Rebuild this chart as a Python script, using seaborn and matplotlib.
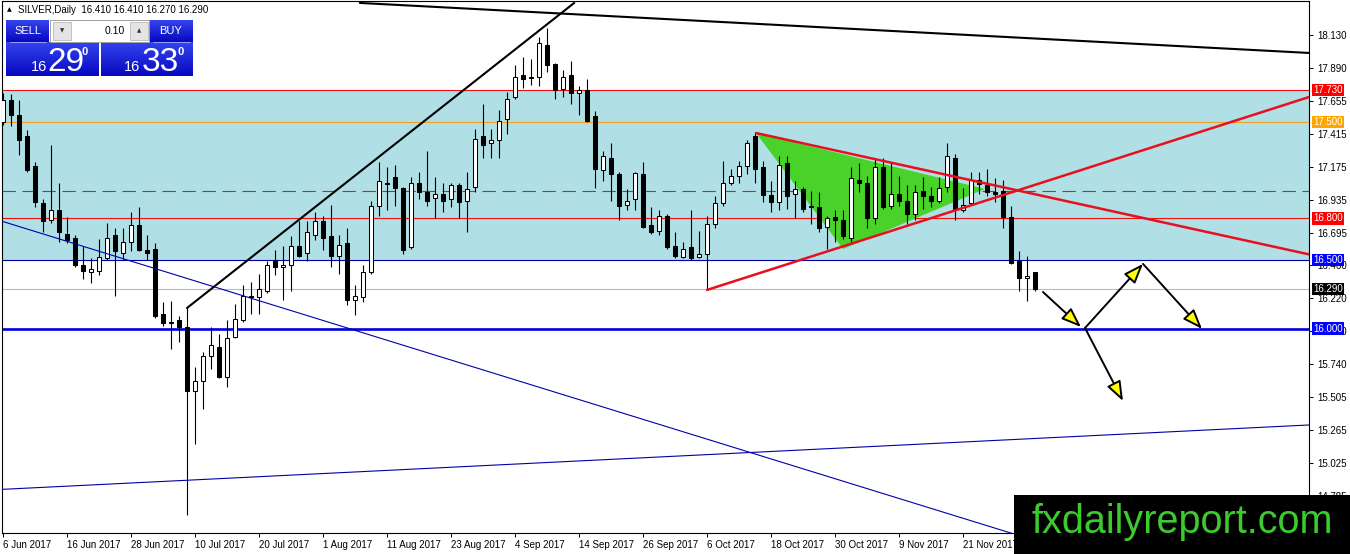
import numpy as np
import pandas as pd
import matplotlib
matplotlib.use("Agg")
import matplotlib.pyplot as plt
import seaborn as sns
from matplotlib.patches import Rectangle
from matplotlib.colors import LinearSegmentedColormap

sns.set_theme(style="white")
plt.rcParams['font.family'] = ['Liberation Sans', 'DejaVu Sans']

# Velas diárias de prata, a partir de 6 Jun 2017
opens = [17.50, 17.66, 17.55, 17.40, 17.18, 16.91, 16.79, 16.86, 16.69, 16.66,
         16.46, 16.41, 16.42, 16.51, 16.68, 16.55, 16.63, 16.75, 16.57, 16.58,
         16.11, 16.04, 16.06, 16.01, 15.55, 15.62, 15.80, 15.87, 15.65, 15.94,
         16.06, 16.24, 16.23, 16.27, 16.50, 16.45, 16.46, 16.60, 16.55, 16.68,
         16.78, 16.67, 16.53, 16.62, 16.21, 16.23, 16.41, 16.89, 17.06, 17.10,
         17.02, 16.59, 17.06, 16.99, 16.95, 16.98, 16.94, 17.04, 16.93, 17.03,
         17.40, 17.35, 17.37, 17.52, 17.68, 17.84, 17.82, 17.83, 18.06, 17.92,
         17.74, 17.84, 17.71, 17.73, 17.54, 17.15, 17.24, 17.12, 16.90, 16.94,
         17.12, 16.75, 16.71, 16.82, 16.60, 16.52, 16.59, 16.52, 16.54, 16.76,
         16.91, 17.06, 17.11, 17.18, 17.40, 17.17, 16.97, 16.92, 17.20, 16.98,
         17.01, 16.88, 16.88, 16.74, 16.81, 16.79, 16.66, 17.08, 17.06, 16.80,
         17.17, 16.89, 16.98, 16.93, 16.83, 17.00, 16.96, 16.93, 17.03, 17.24,
         16.86, 16.91, 17.08, 17.04, 16.99, 17.00, 16.81, 16.49, 16.37, 16.41]
highs = [17.71, 17.70, 17.66, 17.44, 17.21, 16.94, 17.33, 17.06, 16.81, 16.68,
         16.60, 16.51, 16.65, 16.77, 16.73, 16.73, 16.85, 16.88, 16.68, 16.62,
         16.19, 16.20, 16.09, 16.16, 15.72, 15.83, 16.01, 15.96, 16.06, 16.18,
         16.32, 16.34, 16.40, 16.49, 16.57, 16.60, 16.67, 16.78, 16.78, 16.85,
         16.82, 16.90, 16.68, 16.73, 16.32, 16.46, 16.93, 17.21, 17.17, 17.19,
         17.03, 17.10, 17.14, 17.29, 17.10, 17.06, 17.06, 17.06, 17.14, 17.45,
         17.63, 17.45, 17.59, 17.72, 17.91, 17.97, 17.96, 18.12, 18.18, 17.93,
         17.88, 17.94, 17.76, 17.81, 17.58, 17.29, 17.35, 17.14, 17.01, 17.14,
         17.21, 16.88, 16.86, 16.83, 16.70, 16.63, 16.86, 16.71, 16.82, 16.96,
         17.22, 17.16, 17.22, 17.37, 17.42, 17.22, 17.07, 17.25, 17.25, 17.07,
         17.03, 17.00, 16.99, 16.82, 16.86, 16.86, 17.17, 17.20, 17.11, 17.23,
         17.24, 17.20, 17.11, 17.04, 17.04, 17.10, 17.03, 17.10, 17.35, 17.27,
         17.02, 17.14, 17.14, 17.16, 17.09, 17.08, 16.89, 16.56, 16.53, 16.41]
lows = [17.48, 17.47, 17.26, 17.14, 16.88, 16.70, 16.77, 16.63, 16.62, 16.45,
        16.36, 16.33, 16.39, 16.50, 16.24, 16.50, 16.56, 16.56, 16.50, 16.08,
        16.02, 15.85, 15.90, 14.65, 15.16, 15.42, 15.71, 15.64, 15.58, 15.93,
        16.05, 16.11, 16.11, 16.26, 16.39, 16.21, 16.27, 16.52, 16.49, 16.64,
        16.57, 16.45, 16.40, 16.17, 16.10, 16.19, 16.40, 16.82, 16.86, 16.89,
        16.54, 16.58, 16.94, 16.89, 16.80, 16.85, 16.88, 16.80, 16.70, 16.99,
        17.24, 17.24, 17.24, 17.41, 17.67, 17.75, 17.77, 17.76, 17.86, 17.67,
        17.68, 17.63, 17.55, 17.50, 17.02, 17.07, 16.93, 16.79, 16.86, 16.86,
        16.73, 16.69, 16.68, 16.58, 16.51, 16.51, 16.50, 16.51, 16.29, 16.73,
        16.89, 17.04, 17.06, 17.12, 17.06, 16.92, 16.85, 16.86, 16.87, 16.80,
        16.85, 16.76, 16.70, 16.58, 16.63, 16.65, 16.63, 16.99, 16.73, 16.76,
        16.87, 16.87, 16.89, 16.76, 16.79, 16.87, 16.88, 16.91, 16.99, 16.79,
        16.85, 16.90, 16.98, 16.96, 16.92, 16.73, 16.47, 16.27, 16.20, 16.27]
closes = [17.66, 17.55, 17.37, 17.15, 16.92, 16.78, 16.86, 16.70, 16.64, 16.46,
          16.42, 16.43, 16.52, 16.66, 16.56, 16.63, 16.75, 16.57, 16.55, 16.09,
          16.04, 16.05, 16.01, 15.55, 15.62, 15.80, 15.88, 15.65, 15.93, 16.07,
          16.24, 16.23, 16.29, 16.46, 16.45, 16.46, 16.60, 16.53, 16.70, 16.78,
          16.66, 16.53, 16.61, 16.21, 16.24, 16.41, 16.89, 17.07, 17.05, 17.02,
          16.57, 17.06, 16.99, 16.93, 16.98, 16.93, 17.04, 16.92, 17.01, 17.38,
          17.33, 17.37, 17.51, 17.67, 17.83, 17.81, 17.82, 18.07, 17.91, 17.73,
          17.83, 17.71, 17.73, 17.51, 17.16, 17.25, 17.12, 16.89, 16.93, 17.13,
          16.74, 16.70, 16.82, 16.59, 16.53, 16.58, 16.51, 16.54, 16.76, 16.91,
          17.06, 17.11, 17.18, 17.35, 17.16, 16.97, 16.92, 17.19, 16.96, 17.01,
          16.87, 16.89, 16.73, 16.80, 16.79, 16.67, 17.09, 17.06, 16.80, 17.17,
          16.88, 16.98, 16.93, 16.83, 16.99, 16.96, 16.93, 17.02, 17.25, 16.86,
          16.90, 17.08, 17.05, 16.99, 16.98, 16.81, 16.48, 16.37, 16.38, 16.29]

date_labels = ["6 Jun 2017", "16 Jun 2017", "28 Jun 2017", "10 Jul 2017", "20 Jul 2017",
               "1 Aug 2017", "11 Aug 2017", "23 Aug 2017", "4 Sep 2017", "14 Sep 2017",
               "26 Sep 2017", "6 Oct 2017", "18 Oct 2017", "30 Oct 2017", "9 Nov 2017",
               "21 Nov 2017"]
price_ticks = [18.130, 17.890, 17.655, 17.415, 17.175, 16.935, 16.695, 16.460,
               16.220, 15.980, 15.740, 15.505, 15.265, 15.025, 14.785]

# níveis horizontais e etiquetas coloridas
zone_low, zone_high = 16.50, 17.73
level_values = [17.73, 17.50, 16.80, 16.50, 16.29, 16.00]
level_colors = ["#F01010", "#F0A020", "#F01010", "#0000A0", "#BBBBBB", "#0000DD"]
level_widths = [0.8, 0.8, 0.8, 0.8, 0.8, 1.9]
label_colors = ["#FF0000", "#FFA500", "#FF0000", "#0000FF", "#000000", "#0000FF"]
mid_level = 17.00

# linhas de tendência (pontos de ancoragem: índice da barra, preço)
top_line_x, top_line_y = [44.6, 163.25], [18.364, 18.001]
rise_line_x, rise_line_y = [23, 71.4], [16.15, 18.364]
blue_down_x, blue_down_y = [-0.375, 163.25], [16.784, 13.848]
blue_up_x, blue_up_y = [-0.375, 163.25], [14.833, 15.301]
red_upper_x, red_upper_y = [94.125, 163.25], [17.42, 16.539]
red_lower_x, red_lower_y = [88, 163.25], [16.281, 17.681]
tri_x, tri_y = [94.125, 105, 122.75], [17.42, 16.578, 17.014]

# setas do cenário projetado
arrow_x0 = [130, 135.25, 142.5, 135.25]
arrow_y0 = [16.266, 16.005, 16.47, 16.005]
arrow_x1 = [134.75, 142.5, 149.875, 140]
arrow_y1 = [16.012, 16.47, 15.998, 15.475]

df = pd.DataFrame({"Open": opens, "High": highs, "Low": lows, "Close": closes})
df["Bar"] = np.arange(len(df))
df["Up"] = df["Close"] >= df["Open"]
df["Bottom"] = df[["Open", "Close"]].min(axis=1)
df["Body"] = (df["Close"] - df["Open"]).abs().clip(lower=0.004)

fig = plt.figure(figsize=(13.5, 5.54), dpi=100)
ax = fig.add_axes([2/1350, 21/554, 1307/1350, 532/554])
ax.set_facecolor("white")

# faixa azul clara
ax.axhspan(zone_low, zone_high, color="#B0E0E6", zorder=0, lw=0)
for v, c, w in zip(level_values, level_colors, level_widths):
    ax.axhline(v, color=c, lw=w, zorder=1)
ax.axhline(mid_level, color="#C02828", lw=0.8, ls=(0, (12, 6)), zorder=1)

# triângulo verde
ax.fill(tri_x, tri_y, color="#48D22A", zorder=2, lw=0)

# velas
ax.vlines(df["Bar"], df["Low"], df["High"], colors="black", lw=0.8, zorder=3)
ax.bar(df["Bar"], df["Body"], bottom=df["Bottom"], width=0.62,
       color=np.where(df["Up"], "white", "black"), edgecolor="black",
       linewidth=0.75, zorder=3.5)

# linhas de tendência
sns.lineplot(x=top_line_x, y=top_line_y, ax=ax, color="black", lw=1.5, zorder=4)
sns.lineplot(x=rise_line_x, y=rise_line_y, ax=ax, color="black", lw=1.5, zorder=4)
sns.lineplot(x=blue_down_x, y=blue_down_y, ax=ax, color="#0000A8", lw=0.8, zorder=4)
sns.lineplot(x=blue_up_x, y=blue_up_y, ax=ax, color="#0000A8", lw=0.8, zorder=4)
sns.lineplot(x=red_upper_x, y=red_upper_y, ax=ax, color="#E8101E", lw=1.8, zorder=4)
sns.lineplot(x=red_lower_x, y=red_lower_y, ax=ax, color="#E8101E", lw=1.8, zorder=4)

for x0, y0, x1, y1 in zip(arrow_x0, arrow_y0, arrow_x1, arrow_y1):
    ax.annotate("", xy=(x1, y1), xytext=(x0, y0),
                arrowprops=dict(arrowstyle="-|>,head_length=1.2,head_width=0.45",
                                fc="#FFFF00", ec="black", lw=1.4,
                                shrinkA=0, shrinkB=0, mutation_scale=10),
                zorder=5)

ax.set_xlim(-0.125, 163.25)
ax.set_ylim(14.517, 18.378)

ax.set_xticks(np.arange(len(date_labels)) * 8)
ax.set_xticklabels(date_labels)
for lab in ax.get_xticklabels():
    lab.set_horizontalalignment("left")
ax.set_yticks(price_ticks)
ax.set_yticklabels([f"{v:.3f}" for v in price_ticks])
ax.yaxis.tick_right()
ax.tick_params(axis="x", bottom=True, length=3, width=0.7, pad=2, labelsize=7,
               colors="black", direction="out")
ax.tick_params(axis="y", right=True, left=False, length=3, width=0.7, pad=3,
               labelsize=7, colors="black", direction="out")
for s in ax.spines.values():
    s.set_color("black")
    s.set_linewidth(0.8)
ax.grid(False)
ax.set_xlabel("")
ax.set_ylabel("")

for v, c in zip(level_values, label_colors):
    ax.text(1.0035, v, f"{v:.3f}", transform=ax.get_yaxis_transform(), fontsize=7,
            color="white", ha="left", va="center", zorder=6,
            bbox=dict(boxstyle="square,pad=0.12", fc=c, ec="none"))

# camada de sobreposição em pixels: painel de negociação e logotipo
ov = fig.add_axes([0, 0, 1, 1])
ov.axis("off")
blue_cmap = LinearSegmentedColormap.from_list("mt4", ["#3344EE", "#0808C0"])
grad = np.linspace(0, 1, 32).reshape(-1, 1)
for (x0, y0, x1, y1) in [(6, 20, 49, 42), (149, 20, 193, 42), (6, 42, 99, 76), (101, 42, 193, 76)]:
    ov.imshow(grad, extent=(x0, x1, y1, y0), cmap=blue_cmap, aspect="auto", zorder=10)
ov.add_patch(Rectangle((50, 20), 99, 22, fc="white", ec="#A0A0A0", lw=0.7, zorder=10))
ov.add_patch(Rectangle((53, 22), 18, 18, fc="#E4E4E4", ec="#B0B0B0", lw=0.5, zorder=11))
ov.add_patch(Rectangle((130, 22), 18, 18, fc="#E4E4E4", ec="#B0B0B0", lw=0.5, zorder=11))
ov.plot([10, 46], [42, 42], color="#9AA0FF", lw=0.7, zorder=11)
ov.plot([153, 190], [42, 42], color="#9AA0FF", lw=0.7, zorder=11)
ov.text(62, 31, "▼", fontsize=4, ha="center", va="center", color="#333333",
        family=["DejaVu Sans"], zorder=12)
ov.text(139, 31, "▲", fontsize=4, ha="center", va="center", color="#333333",
        family=["DejaVu Sans"], zorder=12)
ov.text(125, 31, "0.10", fontsize=7.5, ha="right", va="center", color="black", zorder=12)
ov.text(27.5, 31, "SELL", fontsize=8, ha="center", va="center", color="white", zorder=12)
ov.text(171, 31, "BUY", fontsize=8, ha="center", va="center", color="white", zorder=12)
for xs, big in [((31, 47, 82), "29"), ((124, 142, 177), "33")]:
    ov.text(xs[0], 71, "16", fontsize=10.5, ha="left", va="baseline", color="white", zorder=12)
    ov.text(xs[1], 71, big, fontsize=24, ha="left", va="baseline", color="white", zorder=12)
    ov.text(xs[2], 55, "0", fontsize=8, ha="left", va="baseline", color="white",
            weight="bold", zorder=12)
ov.text(7, 10, "▲", fontsize=4.5, ha="left", va="center", color="black",
        family=["DejaVu Sans"], zorder=12)
ov.text(18, 10, "SILVER,Daily  16.410 16.410 16.270 16.290", fontsize=7,
        ha="left", va="center", color="black", zorder=12)

ov.add_patch(Rectangle((1014, 495), 336, 59, fc="black", ec="none", zorder=13))
ov.text(1031, 533, "fxdailyreport.com", fontsize=28.5, color="#3CCB2C",
        ha="left", va="baseline", zorder=14)
ov.set_xlim(0, 1350)
ov.set_ylim(554, 0)

fig.savefig("out.png", dpi=100)
